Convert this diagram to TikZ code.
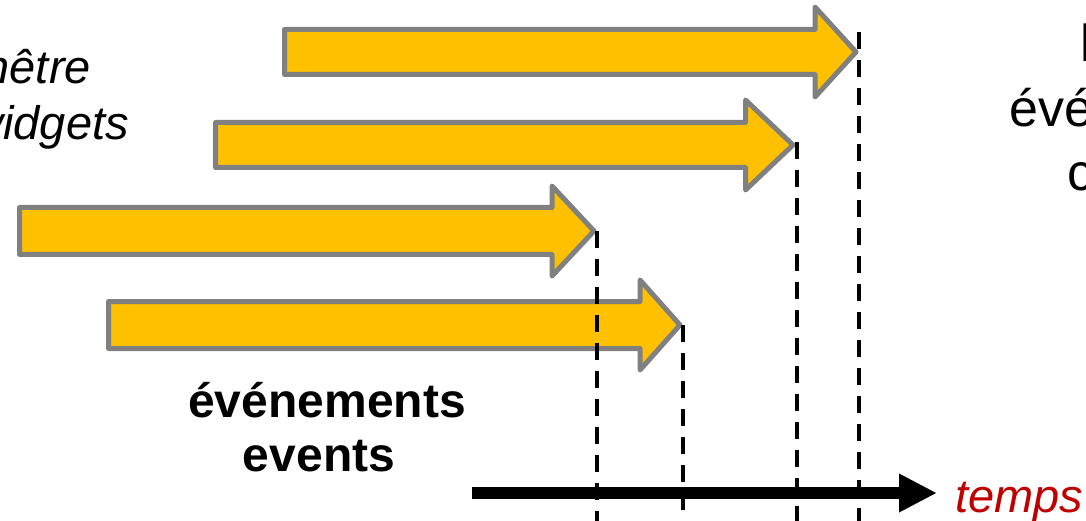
\documentclass[tikz,border=0pt]{standalone}
\usepackage{fontspec}
\setmainfont{Liberation Sans}
\usetikzlibrary{arrows.meta}
\definecolor{arrowfill}{HTML}{FFC000}
\definecolor{arrowgray}{HTML}{808080}
\definecolor{tempsred}{HTML}{C00000}
\tikzset{
  bigarrow/.style={fill=arrowfill, draw=arrowgray, line width=5pt, line join=round},
  tickline/.style={draw=black, line width=3.5pt, dash pattern=on 17pt off 11pt},
  axisline/.style={draw=black, line width=12pt, -{Triangle[length=38pt,width=36pt]}},
  lbl/.style={inner sep=0pt, font=\fontsize{47}{54}\selectfont},
  rlbl/.style={inner sep=0pt, font=\fontsize{52}{60}\selectfont},
}
\newcommand{\drawbigarrow}[6]{% name, x0, yc, xh, xt, shafthalf
  \path[bigarrow] (#2,#3-#6) -- (#4,#3-#6) -- (#4,#3-45) -- (#5,#3) -- (#4,#3+45) -- (#4,#3+#6) -- (#2,#3+#6) -- cycle;
  \coordinate (#1) at (#5,#3);
}
\begin{document}
\begin{tikzpicture}[x=1pt,y=-1pt]
\useasboundingbox (0,0) rectangle (1086,521);
% arrows
\drawbigarrow{t1}{284.5}{52}{815}{856}{22.5}
\drawbigarrow{t2}{215.5}{145}{745.5}{793}{22.5}
\drawbigarrow{t3}{19.5}{231}{552}{594}{23.5}
\drawbigarrow{t4}{108.5}{325}{640}{680}{23.5}
% dashed time marks
\coordinate (d1top) at (859,32);
\coordinate (d1bot) at (859,521);
\coordinate (d2top) at (797,142);
\coordinate (d2bot) at (797,521);
\coordinate (d3top) at (597,231);
\coordinate (d3bot) at (597,521);
\coordinate (d4top) at (683,325);
\coordinate (d4bot) at (683,521);
\path[tickline] (d1top) -- (d1bot);
\path[tickline] (d2top) -- (d2bot);
\path[tickline] (d3top) -- (d3bot);
\path[tickline] (d4top) -- (d4bot);
% time axis
\coordinate (axstart) at (472,493);
\coordinate (axend) at (937,493);
\path[axisline] (axstart) -- (axend);
\node[lbl, anchor=base west, text=tempsred, font=\fontsize{47}{54}\selectfont\itshape] (temps) at (955,512) {temps};
% events label
\node[lbl, anchor=base, font=\fontsize{48}{55}\selectfont\bfseries] (ev1) at (327,417) {événements};
\node[lbl, anchor=base, font=\fontsize{48}{55}\selectfont\bfseries] (ev2) at (319,471) {events};
% left cropped label
\node[lbl, anchor=base east, font=\fontsize{47}{54}\selectfont\itshape] (w1) at (91,84) {nêtre};
\node[lbl, anchor=base east, font=\fontsize{47}{54}\selectfont\itshape] (w2) at (129,140) {widgets};
% right cropped label
\node[rlbl, anchor=base west] (r1) at (1080,62) {l};
\node[rlbl, anchor=base west] (r2) at (1009,127) {évé};
\node[rlbl, anchor=base west] (r3) at (1067,191) {c};
\end{tikzpicture}
\end{document}
